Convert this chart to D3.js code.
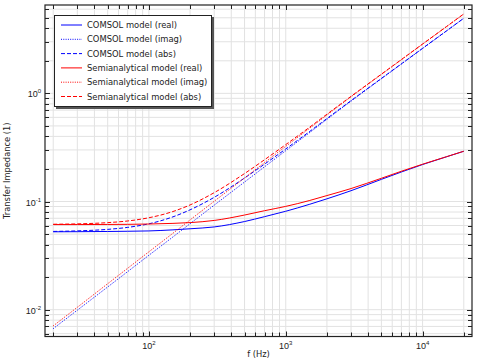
<!DOCTYPE html>
<html><head><meta charset="utf-8">
<script src="https://cdn.jsdelivr.net/npm/d3@7"></script>
<style>body{margin:0;background:#fff}svg{display:block}text{font-family:"Liberation Sans",Arial,sans-serif;fill:#222}</style>
</head><body>
<svg id="c" width="480" height="360"></svg>
<script>
const freq = [20,30,50,70,100,150,200,300,500,700,1000,1500,2000,3000,5000,7000,10000,15000,20000];
const comsolReal = [0.05248,0.05260,0.05284,0.05309,0.05346,0.05470,0.05598,0.05821,0.06531,0.07244,0.08128,0.09441,0.1059,0.1259,0.1603,0.1875,0.2198,0.2594,0.2917];
const comsolImag = [0.00668,0.00989,0.01622,0.02249,0.03184,0.04710,0.06237,0.09247,0.1514,0.2094,0.2951,0.4355,0.5754,0.8472,1.365,1.866,2.600,3.784,4.943];
const comsolAbs  = [0.05290,0.05352,0.05527,0.05766,0.06222,0.07218,0.08381,0.1093,0.1649,0.2216,0.3061,0.4456,0.5851,0.8565,1.3744,1.8754,2.6093,3.7929,4.9516];
const semiReal = [0.06124,0.06124,0.06138,0.06152,0.06194,0.06281,0.06383,0.06683,0.07499,0.08222,0.09016,0.1023,0.1135,0.1318,0.1641,0.1905,0.2213,0.2600,0.2917];
const semiImag = [0.00708,0.01052,0.01738,0.02415,0.03428,0.05093,0.06761,0.1005,0.1652,0.2291,0.3236,0.4775,0.6310,0.9290,1.496,2.046,2.851,4.150,5.420];
const semiAbs  = [0.06165,0.06214,0.06380,0.06609,0.07080,0.08086,0.09298,0.1207,0.1814,0.2434,0.3359,0.4883,0.6412,0.9383,1.5050,2.0548,2.8596,4.1582,5.4279];
const xMajor = [100,1000,10000], xMajorExp = ["2","3","4"];
const yMajor = [0.01,0.1,1], yMajorExp = ["-2","-1","0"];
const seriesNames = ["COMSOL model (real)","COMSOL model (imag)","COMSOL model (abs)","Semianalytical model (real)","Semianalytical model (imag)","Semianalytical model (abs)"];

const L=45,R=472,T=5,B=336.5;
const svg=d3.select("#c");
const x=d3.scaleLog().domain([Math.pow(10,1.241),Math.pow(10,4.361)]).range([L,R]);
const y=d3.scaleLog().domain([Math.pow(10,-2.248),Math.pow(10,0.817)]).range([B,T]);

const xt=x.ticks(), yt=y.ticks();
const g=svg.append("g");
g.selectAll(".gx").data(xt).enter().append("line").attr("x1",d=>x(d)).attr("x2",d=>x(d)).attr("y1",T).attr("y2",B).attr("stroke","#e2e2e2").attr("stroke-width",1);
g.selectAll(".gy").data(yt).enter().append("line").attr("y1",d=>y(d)).attr("y2",d=>y(d)).attr("x1",L).attr("x2",R).attr("stroke","#e2e2e2").attr("stroke-width",1);

const series=[
 {v:comsolReal,c:"#0000ff",d:null},
 {v:comsolImag,c:"#0000ff",d:"1,1.3"},
 {v:comsolAbs,c:"#0000ff",d:"4,2"},
 {v:semiReal,c:"#ff0000",d:null},
 {v:semiImag,c:"#ff0000",d:"1,1.3"},
 {v:semiAbs,c:"#ff0000",d:"4,2"}];
const line=d3.line().x(d=>x(d[0])).y(d=>y(d[1])).curve(d3.curveMonotoneX);
series.forEach(s=>{
  g.append("path").datum(freq.map((f,i)=>[f,s.v[i]])).attr("d",line).attr("fill","none")
   .attr("stroke",s.c).attr("stroke-width",1).attr("stroke-dasharray",s.d);
});

// frame and ticks
const ax=svg.append("g").attr("stroke","#222").attr("stroke-width",1);
const isMaj=d=>Math.abs(Math.log10(d)-Math.round(Math.log10(d)))<1e-6;
xt.forEach(d=>{const len=isMaj(d)?5:4;const px=Math.round(x(d))+0.5;
  ax.append("line").attr("x1",px).attr("x2",px).attr("y1",B).attr("y2",B-len);
  ax.append("line").attr("x1",px).attr("x2",px).attr("y1",T).attr("y2",T+len);});
yt.forEach(d=>{const len=isMaj(d)?5:4;const py=Math.round(y(d))+0.5;
  ax.append("line").attr("x1",L).attr("x2",L+len).attr("y1",py).attr("y2",py);
  ax.append("line").attr("x1",R).attr("x2",R-len).attr("y1",py).attr("y2",py);});
svg.append("rect").attr("x",L).attr("y",T).attr("width",R-L).attr("height",B-T).attr("fill","none").attr("stroke","#222").attr("stroke-width",1.2);

// tick labels
xMajor.forEach((d,i)=>{const t=svg.append("text").attr("x",x(d)).attr("y",349).attr("text-anchor","middle").attr("font-size",9);
  t.append("tspan").text("10"); t.append("tspan").attr("dy",-4).attr("font-size",6).text(xMajorExp[i]);});
yMajor.forEach((d,i)=>{const t=svg.append("text").attr("x",41).attr("y",y(d)+4).attr("text-anchor","end").attr("font-size",9);
  t.append("tspan").text("10"); t.append("tspan").attr("dy",-4).attr("font-size",6).text(yMajorExp[i]);});
svg.append("text").attr("x",(L+R)/2).attr("y",357).attr("text-anchor","middle").style("font-family","'DejaVu Sans',sans-serif").attr("font-size",8.3).text("f (Hz)");
svg.append("text").attr("transform",`translate(10,${(T+B)/2}) rotate(-90)`).attr("text-anchor","middle").style("font-family","'DejaVu Sans',sans-serif").attr("font-size",8.3).text("Transfer Impedance (1)");

// legend
const lg=svg.append("g");
lg.append("rect").attr("x",56).attr("y",17).attr("width",158).attr("height",92).attr("fill","#555");
lg.append("rect").attr("x",54.5).attr("y",15.5).attr("width",157).attr("height",91).attr("fill","#fff").attr("stroke","#222").attr("stroke-width",1);
seriesNames.forEach((n,i)=>{const yy=25+i*14.3;const s=series[i];
  lg.append("line").attr("x1",61).attr("x2",82).attr("y1",yy).attr("y2",yy).attr("stroke",s.c).attr("stroke-width",1).attr("stroke-dasharray",s.d);
  lg.append("text").attr("x",87).attr("y",yy+3).style("font-family","'DejaVu Sans',sans-serif").attr("font-size",8.4).text(n);});
</script>
</body></html>
